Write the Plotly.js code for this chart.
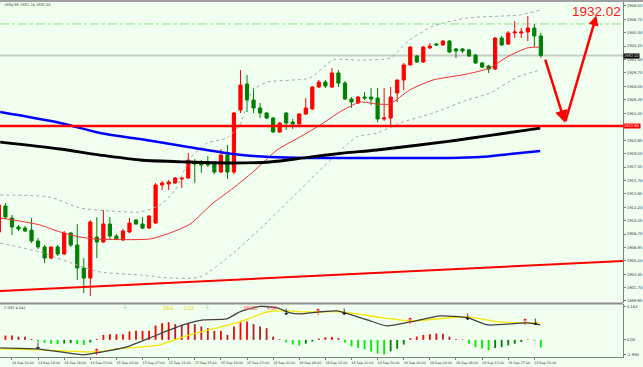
<!DOCTYPE html>
<html><head><meta charset="utf-8">
<script src="https://cdn.plot.ly/plotly-3.0.1.min.js"></script>
<style>html,body{margin:0;padding:0;background:#F0FFF0;overflow:hidden}#chart{width:643px;height:367px}</style>
</head><body><div id="chart"></div>
<script>
// ---------- data (hourly XAUUSD bars, first visible bar index = 2) ----------
const firstBar = 2;
const open = [1908.96,1912.36,1910.79,1909.62,1909.48,1909.22,1907.79,1907.00,1905.56,1907.00,1906.09,1908.83,1907.26,1904.26,1902.95,1908.31,1907.66,1910.01,1908.44,1907.92,1908.96,1910.53,1910.01,1909.48,1910.14,1915.10,1915.23,1915.37,1915.89,1916.02,1918.11,1917.98,1917.98,1917.98,1916.80,1919.02,1916.80,1924.91,1928.30,1926.21,1925.17,1924.51,1923.86,1922.03,1924.51,1923.34,1923.08,1924.38,1925.04,1927.91,1928.56,1927.91,1929.74,1928.43,1926.34,1925.82,1926.60,1926.60,1926.47,1923.73,1923.86,1927.13,1928.83,1930.79,1931.96,1931.18,1933.01,1933.53,1933.40,1933.92,1932.88,1932.88,1932.75,1932.09,1931.05,1930.66,1930.26,1934.31,1933.53,1934.97,1934.97,1935.10,1935.62,1934.58];
const high = [1912.88,1912.75,1911.18,1909.88,1909.75,1910.79,1908.18,1907.26,1907.13,1907.26,1909.09,1908.96,1910.01,1905.56,1910.53,1910.92,1911.84,1910.92,1908.70,1909.35,1910.79,1910.66,1910.92,1911.18,1915.37,1915.63,1915.76,1916.15,1916.15,1919.29,1918.50,1918.37,1918.89,1918.11,1919.81,1920.33,1924.64,1930.13,1929.48,1927.78,1925.82,1924.64,1923.99,1923.34,1924.64,1923.73,1924.51,1926.47,1928.04,1928.83,1928.83,1930.39,1930.13,1928.69,1926.60,1926.73,1927.26,1927.78,1927.78,1927.78,1927.91,1928.83,1931.05,1933.27,1932.09,1933.27,1933.66,1933.66,1934.05,1934.05,1933.01,1933.01,1932.88,1932.22,1931.18,1930.79,1934.44,1934.58,1935.23,1936.54,1935.62,1937.19,1936.14,1934.99];
const low = [1908.70,1910.66,1908.57,1909.09,1908.96,1907.52,1906.74,1904.91,1905.43,1905.83,1905.96,1907.00,1902.69,1900.99,1900.60,1905.56,1907.52,1908.05,1907.92,1907.79,1908.83,1909.88,1909.35,1909.35,1910.01,1914.45,1914.45,1915.23,1914.71,1915.89,1915.37,1916.67,1917.46,1916.54,1916.67,1915.89,1916.54,1924.51,1924.64,1924.51,1923.86,1923.73,1921.90,1921.90,1922.29,1922.42,1922.94,1924.25,1924.91,1927.78,1927.78,1927.78,1927.91,1926.21,1925.17,1925.69,1926.21,1925.56,1923.34,1923.47,1922.68,1925.95,1927.52,1930.66,1931.05,1931.05,1932.88,1933.27,1933.27,1932.35,1931.70,1932.35,1931.83,1930.92,1930.39,1929.74,1930.13,1933.27,1933.40,1934.31,1934.31,1933.92,1933.14,1931.74];
const close = [1912.49,1910.92,1909.62,1909.35,1909.09,1907.79,1907.00,1905.56,1907.00,1906.09,1908.83,1907.26,1904.26,1902.95,1910.27,1907.66,1910.01,1908.44,1908.05,1909.09,1910.14,1910.01,1909.48,1911.05,1915.10,1915.37,1915.50,1916.02,1916.02,1918.37,1917.85,1917.72,1917.72,1916.80,1919.02,1916.80,1924.51,1928.17,1926.21,1925.17,1924.51,1923.86,1922.03,1923.21,1923.21,1923.08,1924.38,1925.17,1927.91,1928.56,1928.04,1929.74,1928.43,1926.34,1925.95,1926.60,1926.47,1926.34,1923.73,1923.86,1926.60,1928.83,1930.79,1933.14,1931.18,1933.14,1933.27,1933.40,1933.92,1932.48,1932.62,1932.62,1931.96,1931.05,1930.52,1930.26,1934.31,1933.40,1934.97,1935.10,1935.10,1935.62,1934.58,1932.02];

// moving averages (bar position, price)
const blueMaX = [2.2,11.4,17.5,23.6,31.0,37.9,43.5,49.6,55.8,63.4,71.1,75.7,80.3,84.9];
const blueMaY = [1924.64,1923.21,1921.90,1921.12,1920.07,1919.16,1918.76,1918.63,1918.63,1918.63,1918.63,1918.76,1919.16,1919.55];
const blackMaX = [2.2,11.4,17.5,23.6,31.0,37.9,43.5,49.6,55.0,59.9,71.1,84.9];
const blackMaY = [1920.72,1919.81,1919.02,1918.37,1918.11,1917.98,1918.11,1918.76,1919.29,1919.68,1920.85,1922.55];
const midMaX = [2.2,5.2,8.3,11.4,14.4,16.7,25.1,28.2,31.3,34.8,37.9,40.9,44.6,48.1,51.2,54.2,57.3,59.9,61.9,64.9,68.5,73.7,77.2,79.8,82.9,84.9];
const midMaY = [1910.79,1910.40,1909.88,1908.96,1908.31,1908.05,1908.05,1908.83,1910.01,1912.75,1914.71,1916.80,1919.68,1921.38,1922.94,1924.64,1925.95,1925.69,1925.69,1927.52,1928.83,1929.61,1930.39,1931.83,1933.01,1933.14];
const upperBandX = [2.2,9.8,14.4,19.0,23.6,26.7,29.0,31.3,33.9,36.9,38.9,40.9,43.1,49.6,53.2,57.3,61.9,64.9,68.5,73.7,79.2,81.8,84.9];
const upperBandY = [1913.80,1913.54,1912.10,1911.71,1911.58,1912.49,1914.45,1918.63,1920.59,1921.25,1922.94,1927.52,1928.56,1929.09,1931.44,1931.44,1931.70,1934.05,1935.88,1936.93,1937.19,1937.32,1937.97];
const lowerBandX = [2.2,8.3,14.4,17.5,23.6,28.2,32.8,37.9,43.1,47.0,51.2,56.8,59.9,63.4,68.5,73.7,77.2,81.4,84.9];
const lowerBandY = [1907.52,1906.35,1904.52,1903.74,1903.34,1902.95,1903.08,1906.22,1910.27,1913.54,1917.07,1921.38,1921.90,1923.21,1924.51,1926.21,1927.13,1929.22,1930.13];

// drawn objects
const trendX = [2.17, 97.58];
const trendY = [1901.25, 1905.17];
const supportLevel = 1922.80;
const bidPrice = 1932.02;
const dashLevel = 1936.15;
const arrowX = [85.6, 88.7, 93.5];
const arrowY = [1931.70, 1923.24, 1937.25];
const targetText = "1932.02";
const ohlcText = "1934.99 1931.74 1932.02";

// MACD panel
const macdHist = [0.50,0.50,0.50,0.38,0.35,0.11,
 -0.22,-0.35,-0.45,-0.50,-0.42,-0.38,-0.50,-0.60,-0.30,
 0.11,0.58,0.66,0.66,0.66,0.97,1.05,1.05,1.05,1.67,1.94,2.05,1.83,1.74,1.94,1.83,1.55,1.36,1.05,1.05,0.58,1.55,2.05,2.13,1.83,1.55,1.36,0.38,0.08,
 -0.30,-0.55,-0.65,-0.45,-0.20,
 0.15,0.30,0.35,0.20,
 -0.30,-0.75,-0.95,-1.10,-1.35,-1.60,-1.70,-1.35,-1.05,-0.55,
 0.20,0.38,0.58,0.66,0.74,0.70,0.38,0.11,0.05,
 -0.45,-0.85,-1.00,-1.20,-0.95,-0.85,-0.65,-0.45,-0.25,0.05,-0.10,-0.90];
const difX = [2.2,7.8,11.4,14.9,17.0,21.6,25.1,30.2,33.3,36.9,38.9,42.0,44.6,46.6,48.1,51.2,53.8,55.0,58.4,61.4,65.0,69.6,73.8,76.9,82.9,84.9];
const difY = [-0.93,-1.05,-1.40,-1.74,-1.50,-0.81,0.23,1.74,2.33,2.44,3.26,3.90,3.72,3.14,3.02,3.26,3.37,3.14,2.33,1.63,2.09,2.79,2.56,1.74,1.98,1.74];
const deaX = [2.2,8.3,17.0,20.1,26.7,30.2,35.4,38.9,43.1,46.6,48.1,54.7,60.8,65.0,73.7,78.7,83.8,84.9];
const deaY = [-1.05,-1.16,-1.40,-1.05,-0.58,0.35,1.40,2.09,3.26,3.37,3.26,3.26,2.56,2.21,2.67,2.09,1.98,1.98];
const sellX = [8.0,46.0,54.9,73.8,84.2];
const sellY = [-0.81,3.14,3.14,2.56,1.98];
const buyX = [17.0,50.9,65.0,82.6];
const buyY = [-1.51,3.14,2.09,1.98];
const hintX = [21.3,33.9];
const hintY = [3.72,3.72];
const macdHeader = "2.032 4.541";
const deaLabel = ["DEA","2.03"];
const macdLabel = ["MACD","4.54"];

// axis labels
const xTickLabels = ["14 Sep 06:00","14 Sep 10:00","14 Sep 14:00","14 Sep 18:00","14 Sep 22:00","15 Sep 03:00","15 Sep 07:00","15 Sep 11:00","15 Sep 15:00","15 Sep 19:00","15 Sep 23:00","18 Sep 03:00","18 Sep 08:00","18 Sep 12:00","18 Sep 16:00","18 Sep 20:00","19 Sep 00:00","19 Sep 04:00","19 Sep 09:00","19 Sep 13:00","19 Sep 17:00","19 Sep 21:00"];
const barsPerLabel = 4;
const yTickLabels = ["1938.50","1936.75","1935.00","1933.25","1931.50","1929.75","1928.00","1926.30","1924.45","1920.95","1919.20","1917.45","1915.70","1913.95","1912.20","1910.45","1908.70","1906.95","1905.20","1903.45","1901.70","1899.95"];
const macdTickLabels = ["4.162","0.00","-1.994"];

// ---------- build ----------
const bars = open.map((_, k) => k + firstBar);
const histColors = macdHist.map((v, k) => {
  const p = k > 0 ? macdHist[k-1] : v;
  if (v >= 0) return v >= p ? '#FF0000' : '#B22222';
  return v <= p ? '#00EE00' : '#008000';
});
const macdMax = Number(macdTickLabels[0]), macdMin = Number(macdTickLabels[2]);
const macdSpan = macdMax - macdMin;
// MT4 prints the extreme labels just inside the panel edges
const macdTickPos = [macdMax - macdSpan * 0.05, 0, macdMin + macdSpan * 0.05];

const traces = [
  {type:'scatter', mode:'lines', x:upperBandX, y:upperBandY, line:{color:'#A8A8A8', width:1, dash:'dot', shape:'spline', smoothing:0.6}, hoverinfo:'skip'},
  {type:'scatter', mode:'lines', x:lowerBandX, y:lowerBandY, line:{color:'#A8A8A8', width:1, dash:'dot', shape:'spline', smoothing:0.6}, hoverinfo:'skip'},
  {type:'scatter', mode:'lines', x:trendX, y:trendY, line:{color:'#FF0000', width:2}, hoverinfo:'skip'},
  {type:'candlestick', x:bars, open:open, high:high, low:low, close:close,
   increasing:{line:{color:'#FF0000', width:1}, fillcolor:'#FF0000'},
   decreasing:{line:{color:'#008000', width:1}, fillcolor:'#008000'},
   whiskerwidth:0, hoverinfo:'skip'},
  {type:'scatter', mode:'lines', x:midMaX, y:midMaY, line:{color:'#F03030', width:1, shape:'spline', smoothing:0.6}, hoverinfo:'skip'},
  {type:'scatter', mode:'lines', x:blueMaX, y:blueMaY, line:{color:'#0000FF', width:2.5, shape:'spline', smoothing:0.8}, hoverinfo:'skip'},
  {type:'scatter', mode:'lines', x:blackMaX, y:blackMaY, line:{color:'#000000', width:2.8, shape:'spline', smoothing:0.8}, hoverinfo:'skip'},
  // MACD panel
  {type:'bar', x:bars, y:macdHist, yaxis:'y2', width:0.28, marker:{color:histColors, line:{width:0}}, hoverinfo:'skip'},
  {type:'scatter', mode:'lines', x:deaX, y:deaY, yaxis:'y2', line:{color:'#F5E600', width:1.3, shape:'spline', smoothing:0.6}, hoverinfo:'skip'},
  {type:'scatter', mode:'lines', x:difX, y:difY, yaxis:'y2', line:{color:'#404040', width:1.3, shape:'spline', smoothing:0.6}, hoverinfo:'skip'},
  {type:'scatter', mode:'text', x:sellX, y:sellY, yaxis:'y2', text:sellX.map(()=>'↓'), textposition:'middle center', textfont:{color:'#000000', size:9, family:'DejaVu Sans'}, hoverinfo:'skip'},
  {type:'scatter', mode:'text', x:buyX, y:buyY, yaxis:'y2', text:buyX.map(()=>'↑'), textposition:'middle center', textfont:{color:'#FF0000', size:9, family:'DejaVu Sans'}, hoverinfo:'skip'},
  {type:'scatter', mode:'text', x:hintX, y:hintY, yaxis:'y2', text:hintX.map(()=>'↓'), textposition:'middle center', textfont:{color:'#7FE07F', size:6, family:'DejaVu Sans'}, hoverinfo:'skip'}
];

const tickFont = {family:'DejaVu Sans', size:3.8, color:'#333333'};
const ann = (o) => Object.assign({showarrow:false, xref:'paper', yref:'paper', xanchor:'center', yanchor:'middle'}, o);
const mainBottom = (357 - 303.5) / 355;

const layout = {
  width:643, height:367,
  margin:{l:0, r:20, t:2, b:10},
  paper_bgcolor:'#F0FFF0', plot_bgcolor:'#F0FFF0',
  showlegend:false, dragmode:false,
  xaxis:{range:[2.17, 97.58], anchor:'y2', showgrid:false, zeroline:false,
    tickvals:xTickLabels.map((_, k) => k * barsPerLabel), ticktext:xTickLabels,
    ticks:'outside', ticklen:2, tickcolor:'#808080', ticklabelshift:11,
    tickfont:{family:'DejaVu Sans', size:3.3, color:'#333333'},
    showline:true, linecolor:'#808080', linewidth:1, rangeslider:{visible:false}},
  yaxis:{domain:[0.152, 1], range:[1899.68, 1939.02], side:'right', anchor:'x',
    showgrid:false, zeroline:false, tickvals:yTickLabels.map(Number), ticktext:yTickLabels,
    ticks:'outside', ticklen:2, tickcolor:'#808080', tickfont:tickFont,
    showline:true, linecolor:'#808080', linewidth:1},
  yaxis2:{domain:[0, 0.149], range:[macdMin, macdMax], side:'right', anchor:'x',
    showgrid:false, zeroline:false, tickvals:macdTickPos, ticktext:macdTickLabels,
    ticks:'outside', ticklen:2, tickcolor:'#808080', tickfont:tickFont,
    showline:true, linecolor:'#808080', linewidth:1},
  shapes:[
    {type:'rect', xref:'paper', yref:'paper', x0:0, x1:1.04, y0:1, y1:1.006, fillcolor:'#A0A0A0', line:{width:0}},
    {type:'line', xref:'paper', yref:'paper', x0:0, x1:1, y0:mainBottom, y1:mainBottom, line:{color:'#909090', width:2}},
    {type:'line', xref:'paper', yref:'y', x0:0, x1:1, y0:dashLevel, y1:dashLevel, line:{color:'#8FE08F', width:1, dash:'dashdot'}, layer:'below'},
    {type:'line', xref:'paper', yref:'y', x0:0, x1:1, y0:bidPrice, y1:bidPrice, line:{color:'#C8CCC8', width:2}, layer:'below'},
    {type:'line', xref:'paper', yref:'y', x0:0, x1:1, y0:supportLevel, y1:supportLevel, line:{color:'#FF0000', width:2.5}}
  ],
  annotations:[
    ann({x:0.003, y:0.9915, xanchor:'left', text:ohlcText, font:{family:'DejaVu Sans', size:3.6, color:'#333'}}),
    ann({x:0.003, y:0.138, xanchor:'left', text:macdHeader, font:{family:'DejaVu Sans', size:3.6, color:'#333'}}),
    ann({x:0.271, y:0.138, text:deaLabel[0], font:{family:'Liberation Sans', size:5, color:'#E8D800'}}),
    ann({x:0.303, y:0.138, text:deaLabel[1], font:{family:'Liberation Sans', size:5, color:'#E8D800'}}),
    ann({x:0.403, y:0.138, text:macdLabel[0], font:{family:'Liberation Sans', size:4.6, color:'#FF5050'}}),
    ann({x:0.437, y:0.138, text:macdLabel[1], font:{family:'Liberation Sans', size:5, color:'#FF5050'}}),
    {xref:'paper', yref:'y', x:1, y:bidPrice, xanchor:'left', yanchor:'middle', showarrow:false, text:bidPrice.toFixed(2), bgcolor:'#000000', borderpad:0, font:{family:'DejaVu Sans', size:3.6, color:'#FFFFFF'}},
    {xref:'paper', yref:'y', x:1, y:supportLevel, xanchor:'left', yanchor:'middle', showarrow:false, text:supportLevel.toFixed(2), bgcolor:'#FF0000', borderpad:0, font:{family:'DejaVu Sans', size:3.6, color:'#FFFFFF'}},
    {xref:'x', yref:'y', axref:'x', ayref:'y', x:arrowX[1], y:arrowY[1], ax:arrowX[0], ay:arrowY[0], text:'', showarrow:true, arrowhead:2, arrowsize:1, arrowwidth:2.5, arrowcolor:'#FF0000'},
    {xref:'x', yref:'y', axref:'x', ayref:'y', x:arrowX[2], y:arrowY[2], ax:arrowX[1], ay:arrowY[1], text:'', showarrow:true, arrowhead:2, arrowsize:0.8, arrowwidth:2.5, arrowcolor:'#FF0000'},
    ann({x:0.958, y:0.972, text:targetText, font:{family:'Liberation Sans', size:13.5, color:'#FF1A1A'}})
  ]
};

Plotly.newPlot('chart', traces, layout, {displayModeBar:false, staticPlot:true});
</script>
</body></html>
